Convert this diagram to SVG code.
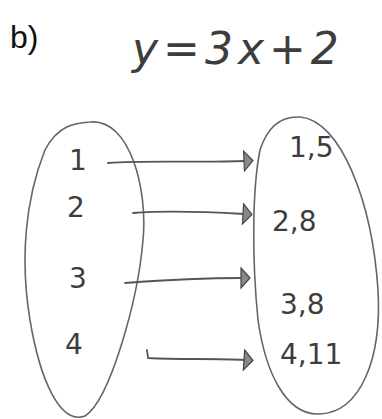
<svg xmlns="http://www.w3.org/2000/svg" width="382" height="419" viewBox="0 0 382 419">
<defs>
<style>
.set{fill:none;stroke:#666;stroke-width:1.6;stroke-linecap:round}
.conn{fill:none;stroke:#555;stroke-width:1.8;stroke-linecap:round}
.hw{font-family:"DejaVu Sans","Liberation Sans",sans-serif;fill:#3d3d3d}
.lbl{font-size:28px}
</style>
<marker id="ah" markerWidth="12" markerHeight="24" refX="2" refY="11" orient="auto" markerUnits="userSpaceOnUse">
<path d="M1,1 L10,11 L1,21 Z" fill="#888" stroke="#444" stroke-width="1.2"/>
</marker>
</defs>
<rect width="382" height="419" fill="#fff"/>
<g id="title">
<text x="10" y="48" font-family="Liberation Sans, Arial, sans-serif" font-size="32" fill="#111">b)</text>
<text class="hw" x="132" y="64" font-size="44" font-style="italic" letter-spacing="5" fill="#555">y=3x+2</text>
</g>
<g id="domain">
<path class="set" d="M90,122 C130,118 148,190 143,240 C138,300 110,400 85,416 C60,425 40,380 30,320 C20,260 25,200 45,150 C58,125 75,123 90,122 Z"/>
<text class="hw lbl" x="69" y="170">1</text>
<text class="hw lbl" x="67" y="217">2</text>
<text class="hw lbl" x="69" y="288">3</text>
<text class="hw lbl" x="65" y="354">4</text>
</g>
<g id="codomain">
<path class="set" d="M300,117 C340,120 372,200 378,290 C382,360 360,412 320,414 C285,416 265,370 258,320 C252,260 252,190 260,150 C268,125 282,116 300,117 Z"/>
<text class="hw lbl" x="289" y="157">1,5</text>
<text class="hw lbl" x="272" y="231">2,8</text>
<text class="hw lbl" x="280" y="314">3,8</text>
<text class="hw lbl" x="280" y="364">4,11</text>
</g>
<g id="connectors">
<path class="conn" d="M108,163 C150,160 200,163 245,161" marker-end="url(#ah)"/>
<path class="conn" d="M133,213 C170,210 210,212 244,214" marker-end="url(#ah)"/>
<path class="conn" d="M125,283 C165,280 205,278 242,278" marker-end="url(#ah)"/>
<path class="conn" d="M147,350 L148,358 C180,360 215,358 245,360" marker-end="url(#ah)"/>
</g>
</svg>
